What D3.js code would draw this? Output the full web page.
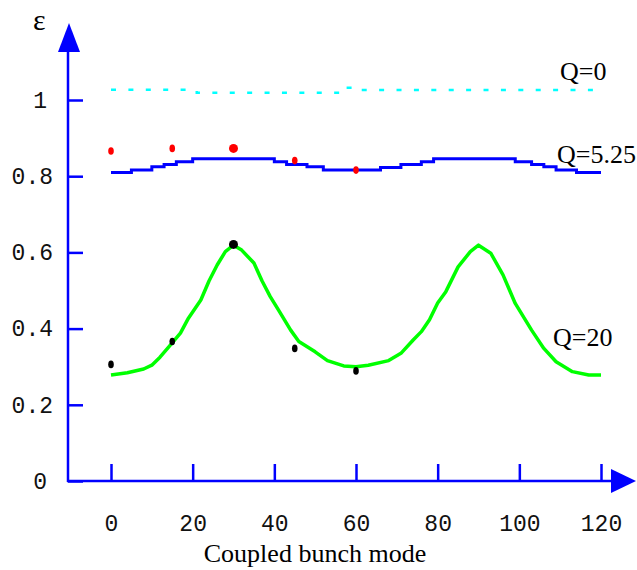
<!DOCTYPE html>
<html>
<head>
<meta charset="utf-8">
<script src="https://cdn.jsdelivr.net/npm/d3@7"></script>
<style>
  body { margin: 0; background: #fff; }
</style>
</head>
<body>
<div id="chart"></div>
<script>
// data
const xTicks = [0, 20, 40, 60, 80, 100, 120];
const yTicks = [0, 0.2, 0.4, 0.6, 0.8, 1];

// Q=0 (cyan dashed)
const q0Modes  = [0, 21, 57, 60, 62, 120];
const q0Values = [1.027, 1.019, 1.032, 1.026, 1.026, 1.026];

// Q=5.25 (blue, stepped)
const q5Modes  = [0, 5, 10, 13, 16, 20, 40, 43, 48, 52, 66, 71, 76, 79, 99, 103, 106, 109, 114, 120];
const q5Values = [0.810, 0.816, 0.825, 0.831, 0.838, 0.846, 0.838, 0.831, 0.825, 0.816,
                  0.823, 0.831, 0.838, 0.846, 0.838, 0.831, 0.825, 0.816, 0.810, 0.810];

// Q=20 (green)
const q20Modes  = [0, 4, 8, 10, 12, 14, 17, 19, 22, 24, 26, 28, 30, 32, 35, 37, 39, 41, 44, 46, 50, 53, 57, 60,
                   63, 68, 71, 74, 76, 78, 80, 82, 85, 88, 90, 93, 96, 99, 103, 106, 109, 113, 117, 120];
const q20Values = [0.278, 0.284, 0.294, 0.304, 0.325, 0.350, 0.388, 0.428, 0.475, 0.525, 0.567, 0.602, 0.619,
                   0.606, 0.572, 0.525, 0.484, 0.449, 0.396, 0.366, 0.339, 0.316, 0.302, 0.300,
                   0.304, 0.316, 0.335, 0.370, 0.392, 0.423, 0.467, 0.497, 0.562, 0.602, 0.619, 0.598,
                   0.541, 0.466, 0.396, 0.348, 0.313, 0.287, 0.278, 0.278];

// measured points
const redModes    = [0, 15, 30, 45, 60];
const redValues   = [0.866, 0.873, 0.873, 0.841, 0.816];
const blackModes  = [0, 15, 30, 45, 60];
const blackValues = [0.306, 0.366, 0.621, 0.348, 0.289];

const W = 637, H = 570;
const axisX = 68, axisY = 481;

const svg = d3.select("#chart")
  .append("svg")
  .attr("width", W)
  .attr("height", H);

const x = d3.scaleLinear().domain([0, 120]).range([111, 601]);
const y = d3.scaleLinear().domain([0, 1]).range([axisY, 100]);

const blue = "#0000ff";

// Y axis: ticks to the right, labels on the left
const yAxis = svg.append("g")
  .attr("transform", `translate(${axisX},0)`)
  .call(d3.axisLeft(y).tickValues(yTicks).tickSize(-15).tickPadding(15)
    .tickFormat(d => d === 0 || d === 1 ? d3.format("d")(d) : d3.format(".1f")(d)));
yAxis.select(".domain").remove();
yAxis.selectAll("line").attr("stroke", blue).attr("stroke-width", 2.5);
yAxis.selectAll("text")
  .attr("dx", d => d === 0 || d === 1 ? -6 : 0)
  .style("font-family", "'Liberation Mono', monospace")
  .style("font-size", "23px")
  .attr("fill", "#111");

// X axis: ticks upward, labels well below
const xAxis = svg.append("g")
  .attr("transform", `translate(0,${axisY})`)
  .call(d3.axisBottom(x).tickValues(xTicks).tickSize(-17).tickPadding(34));
xAxis.select(".domain").remove();
xAxis.selectAll("line").attr("stroke", blue).attr("stroke-width", 2.5);
xAxis.selectAll("text")
  .style("font-family", "'Liberation Mono', monospace")
  .style("font-size", "23px")
  .attr("fill", "#111");

// axis lines with arrows
svg.append("path")
  .attr("d", `M${axisX},${axisY + 1}V50`)
  .attr("stroke", blue).attr("stroke-width", 2.5).attr("fill", "none");
svg.append("path")
  .attr("d", `M${axisX - 1},${axisY}H612`)
  .attr("stroke", blue).attr("stroke-width", 2.5).attr("fill", "none");
svg.append("path")
  .attr("d", `M58,52L80,52L69,23Z`)
  .attr("fill", blue);
svg.append("path")
  .attr("d", `M611,${axisY - 12}L611,${axisY + 12}L636,${axisY}Z`)
  .attr("fill", blue);

// curves
const mk = (ms, vs) => ms.map((m, i) => ({ m, v: vs[i] }));

svg.append("path")
  .datum(mk(q0Modes, q0Values))
  .attr("d", d3.line().x(d => x(d.m)).y(d => y(d.v)).curve(d3.curveStepAfter))
  .attr("fill", "none")
  .attr("stroke", "#00ffff")
  .attr("stroke-width", 2.5)
  .attr("stroke-dasharray", "5,12.4");

svg.append("path")
  .datum(mk(q5Modes, q5Values))
  .attr("d", d3.line().x(d => x(d.m)).y(d => y(d.v)).curve(d3.curveStepAfter))
  .attr("fill", "none")
  .attr("stroke", blue)
  .attr("stroke-width", 3);

svg.append("path")
  .datum(mk(q20Modes, q20Values))
  .attr("d", d3.line().x(d => x(d.m)).y(d => y(d.v)))
  .attr("fill", "none")
  .attr("stroke", "#00ff00")
  .attr("stroke-width", 3.5)
  .attr("stroke-linejoin", "round");

// measured dots
function dots(ms, vs, color) {
  svg.append("g").selectAll("ellipse")
    .data(mk(ms, vs))
    .join("ellipse")
    .attr("cx", d => x(d.m))
    .attr("cy", d => y(d.v))
    .attr("rx", d => d.m === 30 ? 4.5 : 2.8)
    .attr("ry", d => d.m === 30 ? 4.5 : 3.8)
    .attr("fill", color);
}
dots(redModes, redValues, "#ff0000");
dots(blackModes, blackValues, "#000");

// labels
const serif = "'Liberation Serif', 'Times New Roman', serif";
const label = (tx, ty, s, size) => svg.append("text")
  .attr("x", tx).attr("y", ty)
  .style("font-family", serif)
  .style("font-size", size + "px")
  .attr("fill", "#000")
  .text(s);

label(560, 80, "Q=0", 26);
label(557, 163, "Q=5.25", 26);
label(553, 346, "Q=20", 26);
label(33, 30, "ε", 30);

svg.append("text")
  .attr("x", 315).attr("y", 562)
  .attr("text-anchor", "middle")
  .style("font-family", serif)
  .style("font-size", "26px")
  .attr("fill", "#000")
  .text("Coupled bunch mode");
</script>
</body>
</html>
